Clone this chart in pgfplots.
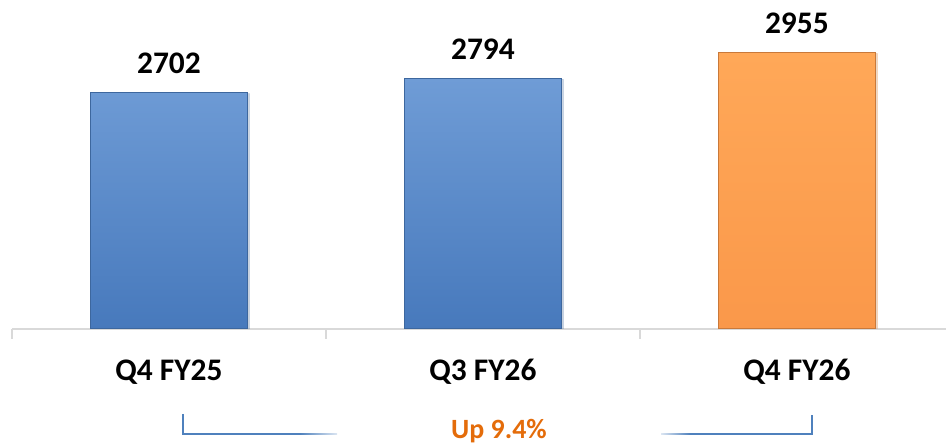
\documentclass[border=0pt]{standalone}
\usepackage{fontspec}
\setmainfont{Carlito}
\usepackage{pgfplots}
\pgfplotsset{compat=1.18}
\usetikzlibrary{shadows}
\definecolor{blueTop}{HTML}{6F9CD6}
\definecolor{blueBot}{HTML}{4779BC}
\definecolor{blueEdge}{HTML}{3D679E}
\definecolor{orTop}{HTML}{FFA858}
\definecolor{orBot}{HTML}{FA984A}
\definecolor{orEdge}{HTML}{C9793A}
\definecolor{axisgray}{HTML}{D9D9D9}
\definecolor{brblue}{HTML}{4F81BD}
\definecolor{uporange}{HTML}{E46C0A}
\begin{document}
\begin{tikzpicture}[x=1bp,y=1bp]
\useasboundingbox (0,0) rectangle (946,445);
\begin{axis}[
  at={(12bp,116bp)}, anchor=south west,
  scale only axis, width=934bp, height=329bp,
  xmin=-0.5, xmax=2.475, ymin=1200, ymax=3292,
  axis x line*=bottom, axis y line=none,
  xtick={0,1,2}, xticklabels={Q4 FY25,Q3 FY26,Q4 FY26},
  minor xtick={-0.5,0.5,1.5},
  major tick length=0pt, minor tick length=10bp, tick align=outside,
  minor tick style={draw=axisgray, line width=2bp},
  major tick style={draw=none},
  x axis line style={draw=axisgray, line width=2bp},
  xticklabel style={font=\fontsize{31.5}{36}\selectfont\bfseries, anchor=base, inner sep=0pt, yshift=-52bp},
  ybar, bar width=157bp,
  /pgf/number format/1000 sep={},
  /pgf/number format/assume math mode=true,
  nodes near coords,
  nodes near coords style={font=\fontsize{31.5}{36}\selectfont\bfseries, anchor=base, inner sep=0pt, yshift=19bp, text=black},
]
\addplot[bar shift=0pt, top color=blueTop, bottom color=blueBot, draw=blueEdge, line width=1bp,
  drop shadow={shadow xshift=2bp, shadow yshift=-1bp, opacity=0.2}]
  coordinates {(0,2702) (1,2794)};
\addplot[bar shift=0pt, top color=orTop, bottom color=orBot, draw=orEdge, line width=1bp,
  drop shadow={shadow xshift=2bp, shadow yshift=-1bp, opacity=0.2}]
  coordinates {(2,2955)};
\end{axis}
\draw[brblue, line width=1.5bp] (183,31) -- (183,11) -- (300,11);
\shade[left color=brblue, right color=brblue!20] (300,10.25) rectangle (337,11.75);
\shade[left color=brblue!20, right color=brblue] (661,10.25) rectangle (690,11.75);
\draw[brblue, line width=1.5bp] (690,11) -- (812,11) -- (812,30);
\node[anchor=base, text=uporange, font=\fontsize{28}{32}\selectfont\bfseries, inner sep=0pt] at (499,6.5) {Up 9.4\%};
\end{tikzpicture}
\end{document}
